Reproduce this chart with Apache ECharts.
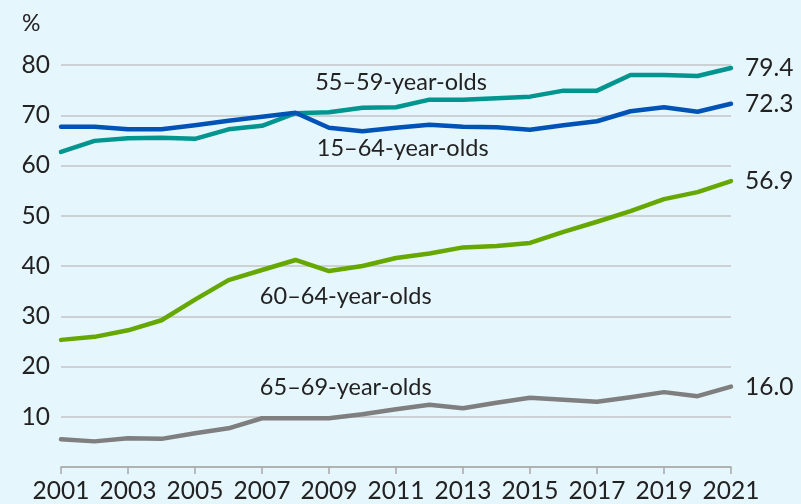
<!DOCTYPE html>
<html>
<head>
<meta charset="utf-8">
<script src="https://cdn.jsdelivr.net/npm/echarts@6/dist/echarts.min.js"></script>
<style>
  html, body { margin: 0; padding: 0; background: #e6f6fd; }
  #chart { width: 801px; height: 504px; }
</style>
</head>
<body>
<div id="chart"></div>
<script>
// Employment rates by age group, 2001–2021 (%)
const years = [2001, 2002, 2003, 2004, 2005, 2006, 2007, 2008, 2009, 2010, 2011,
               2012, 2013, 2014, 2015, 2016, 2017, 2018, 2019, 2020, 2021];
const age15to64 = [67.7, 67.7, 67.2, 67.2, 68.0, 68.9, 69.7, 70.5, 67.5, 66.8, 67.5,
                   68.1, 67.7, 67.6, 67.1, 68.0, 68.8, 70.8, 71.6, 70.7, 72.3];
const age55to59 = [62.7, 64.9, 65.4, 65.5, 65.3, 67.2, 67.9, 70.4, 70.6, 71.5, 71.6,
                   73.1, 73.1, 73.4, 73.7, 74.9, 74.9, 78.0, 78.0, 77.8, 79.4];
const age60to64 = [25.3, 25.9, 27.2, 29.2, 33.3, 37.2, 39.2, 41.2, 39.0, 40.0, 41.6,
                   42.5, 43.7, 44.0, 44.6, 46.8, 48.8, 50.9, 53.3, 54.7, 56.9];
const age65to69 = [5.5, 5.1, 5.7, 5.6, 6.7, 7.7, 9.7, 9.7, 9.7, 10.5, 11.5,
                   12.4, 11.7, 12.8, 13.8, 13.4, 13.0, 13.9, 14.9, 14.1, 16.0];
const yTicks = [10, 20, 30, 40, 50, 60, 70, 80];

const FONT = 'Lato';
const TEXT = '#222222';

function pairs(vals) { return years.map((y, i) => [y, vals[i]]); }

// name label placed in data space next to each line
function nameTag(text, x, y) {
  return {
    symbol: 'circle', symbolSize: 0, silent: true,
    data: [{ coord: [x, y], value: text }],
    label: { show: true, position: 'inside', formatter: text,
             color: TEXT, fontFamily: FONT, fontSize: 23.5 }
  };
}

function lineSeries(name, vals, color, tag) {
  return {
    name: name, type: 'line', data: pairs(vals),
    showSymbol: false, symbol: 'none', smooth: false,
    lineStyle: { color: color, width: 4.5, cap: 'round', join: 'round' },
    itemStyle: { color: color },
    endLabel: {
      show: true, distance: 14,
      formatter: p => p.value[1].toFixed(1),
      color: TEXT, fontFamily: FONT, fontSize: 24.5
    },
    markPoint: tag,
    z: 3
  };
}

const chart = echarts.init(document.getElementById('chart'));
chart.setOption({
  backgroundColor: '#e6f6fd',
  animation: false,
  grid: { left: 61, right: 70, top: 65, bottom: 35.5, containLabel: false },
  graphic: [{
    type: 'text', left: 22, top: 12,
    style: { text: '%', fill: TEXT, font: '23px ' + FONT }
  }],
  xAxis: {
    type: 'value', min: 2001, max: 2021, interval: 2,
    axisLine: { show: true, onZero: false, lineStyle: { color: '#a8a8a8', width: 1.5 } },
    axisTick: { show: true, length: 7, lineStyle: { color: '#a8a8a8', width: 1.5 } },
    splitLine: { show: false },
    axisLabel: { color: TEXT, fontFamily: FONT, fontSize: 24.5, margin: 12,
                 formatter: v => String(v) }
  },
  yAxis: {
    type: 'value', min: 0, max: 80, interval: 10,
    axisLine: { show: false }, axisTick: { show: false },
    splitLine: { show: true, lineStyle: { color: '#c4c4c4', width: 1.5 } },
    axisLabel: { color: TEXT, fontFamily: FONT, fontSize: 24.5, margin: 11,
                 formatter: v => yTicks.includes(v) ? String(v) : '' }
  },
  series: [
    lineSeries('55–59', age55to59, '#00968f', nameTag('55–59-year-olds', 2011.15, 76.6)),
    lineSeries('15–64', age15to64, '#0053b6', nameTag('15–64-year-olds', 2011.2, 63.3)),
    lineSeries('60–64', age60to64, '#66a800', nameTag('60–64-year-olds', 2009.5, 34.0)),
    lineSeries('65–69', age65to69, '#7f7f7f', nameTag('65–69-year-olds', 2009.5, 15.9))
  ]
});
</script>
</body>
</html>
